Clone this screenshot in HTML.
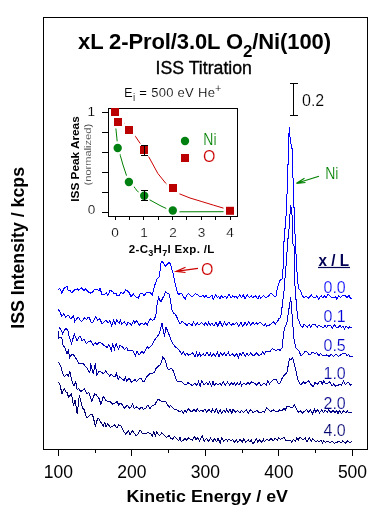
<!DOCTYPE html>
<html><head><meta charset="utf-8"><style>
html,body{margin:0;padding:0;background:#fff;}
svg{display:block;will-change:transform;opacity:0.999;}
text{font-family:"Liberation Sans",sans-serif;}
</style></head><body>
<svg width="384" height="517" viewBox="0 0 384 517">
<rect x="0" y="0" width="384" height="517" fill="#fff"/>
<rect x="43.5" y="17.5" width="324" height="432" fill="none" stroke="#000" stroke-width="1" shape-rendering="crispEdges"/>
<g stroke="#000" stroke-width="1" shape-rendering="crispEdges"><line x1="58.5" y1="449" x2="58.5" y2="456"/><line x1="95.5" y1="449" x2="95.5" y2="453"/><line x1="131.5" y1="449" x2="131.5" y2="456"/><line x1="168.5" y1="449" x2="168.5" y2="453"/><line x1="205.5" y1="449" x2="205.5" y2="456"/><line x1="242.5" y1="449" x2="242.5" y2="453"/><line x1="278.5" y1="449" x2="278.5" y2="456"/><line x1="315.5" y1="449" x2="315.5" y2="453"/><line x1="352.5" y1="449" x2="352.5" y2="456"/></g>
<g font-size="17.5" fill="#000"><text x="58.3" y="478" text-anchor="middle">100</text><text x="131.9" y="478" text-anchor="middle">200</text><text x="205.4" y="478" text-anchor="middle">300</text><text x="278.9" y="478" text-anchor="middle">400</text><text x="352.5" y="478" text-anchor="middle">500</text></g>
<text x="126.5" y="502" font-size="17" font-weight="bold" textLength="161.5" lengthAdjust="spacingAndGlyphs">Kinetic Energy / eV</text>
<text transform="translate(23.8,328.7) rotate(-90)" x="0" y="0" font-size="17.5" font-weight="bold" textLength="161.7" lengthAdjust="spacingAndGlyphs">ISS Intensity / kcps</text>
<text x="78" y="48.7" font-size="22" font-weight="bold" textLength="253" lengthAdjust="spacing">xL 2-Prol/3.0L O<tspan font-size="17" dy="8">2</tspan><tspan dy="-8">/Ni(100)</tspan></text>
<text x="155.6" y="73.9" font-size="17.7" stroke="#000" stroke-width="0.35">ISS Titration</text>
<text x="124" y="96.7" font-size="13" textLength="97" lengthAdjust="spacing" stroke="#fff" stroke-width="0.15">E<tspan font-size="10" dy="4.5">i</tspan><tspan dy="-4.5"> = 500 eV He</tspan><tspan font-size="10" dy="-5">+</tspan></text>
<g font-size="16" stroke="#fff" stroke-width="0.2"><text x="323.5" y="292.9" fill="#0000ff">0.0</text><text x="323.5" y="321.5" fill="#0000dd">0.1</text><text x="323.5" y="350.8" fill="#0000c8">0.5</text><text x="323.5" y="379" fill="#00009e">1.0</text><text x="323.5" y="409.1" fill="#000088">2.0</text><text x="323.5" y="435.8" fill="#000070">4.0</text></g>
<g fill="none" stroke-width="1" stroke-linejoin="miter" shape-rendering="crispEdges"><path d="M58.2,289.8 L59.9,288.5 L61.8,293.0 L64.4,287.8 L67.0,286.5 L68.3,291.0 L70.0,289.9 L71.3,292.9 L73.5,291.0 L75.4,289.3 L77.4,289.0 L78.7,290.1 L81.3,287.8 L84.0,290.4 L85.2,288.5 L87.9,291.7 L90.5,293.0 L93.0,291.7 L94.5,289.1 L97.0,289.8 L99.6,290.4 L100.0,288.3 L101.8,294.1 L104.7,294.5 L106.3,292.4 L107.9,295.4 L110.0,290.5 L112.5,291.4 L113.8,293.3 L115.9,293.4 L117.2,296.0 L119.0,295.8 L121.2,292.1 L123.1,293.9 L125.8,289.8 L128.4,291.6 L129.7,293.8 L131.1,296.9 L133.2,293.8 L136.7,297.7 L138.3,298.1 L140.4,293.2 L142.2,293.0 L144.1,295.7 L146.9,292.2 L150.0,292.2 L152.3,295.3 L154.9,284.9 L157.0,278.9 L159.4,276.6 L161.2,261.0 L163.3,262.5 L165.6,266.4 L168.8,262.5 L170.3,264.0 L172.7,271.9 L175.0,282.8 L177.3,292.2 L178.5,294.2 L180.5,293.8 L181.8,293.3 L183.6,296.9 L185.3,299.3 L186.7,295.3 L188.7,293.5 L190.6,296.0 L192.2,296.5 L195.3,293.8 L197.8,294.7 L200.0,296.9 L203.0,295.3 L204.5,297.1 L206.1,295.4 L207.8,297.9 L210.0,296.9 L211.9,295.2 L213.2,299.1 L215.6,294.9 L217.4,297.6 L218.7,296.2 L220.1,298.8 L221.3,295.5 L223.0,297.5 L225.1,296.0 L226.7,298.1 L229.1,294.5 L231.0,298.0 L232.7,295.8 L234.1,297.4 L236.1,296.0 L237.3,298.3 L239.7,295.0 L241.4,297.6 L243.4,294.9 L244.9,298.7 L247.3,294.9 L249.5,297.7 L251.2,295.8 L252.8,297.7 L255.3,295.5 L257.9,298.9 L259.4,295.8 L260.9,298.3 L263.3,295.4 L265.6,297.4 L268.2,296.7 L270.5,293.5 L272.0,294.0 L274.3,296.1 L276.0,296.0 L277.5,287.4 L280.3,279.7 L282.1,279.0 L283.4,265.0 L283.6,248.0 L284.7,231.0 L285.8,222.6 L286.7,197.0 L287.4,190.0 L287.4,164.6 L288.1,164.6 L288.6,139.8 L289.4,127.1 L289.8,135.2 L291.7,148.3 L292.9,148.3 L292.9,173.0 L293.3,190.0 L293.6,207.0 L294.5,207.8 L294.8,227.0 L295.6,253.6 L296.7,254.3 L296.7,268.0 L297.5,278.0 L298.4,288.2 L300.2,290.4 L302.4,295.6 L303.8,297.5 L306.3,296.3 L308.4,298.3 L311.5,295.2 L313.6,297.5 L315.6,298.0 L316.8,295.9 L318.8,299.3 L321.2,295.4 L322.7,297.7 L324.8,295.6 L326.1,297.9 L328.0,294.6 L329.7,295.6 L332.2,297.9 L334.4,298.0 L335.6,296.7 L336.8,299.0 L338.7,295.6 L340.4,297.8 L342.6,295.6 L345.3,295.6 L346.9,297.6 L348.9,295.4 L350.7,298.7 L352.3,298.0" stroke="#0000ff"/><path d="M58.2,309.3 L59.9,311.9 L61.8,316.5 L63.8,313.9 L65.7,317.0 L68.3,315.2 L70.9,319.0 L73.5,315.8 L74.8,321.7 L77.0,318.1 L78.7,317.8 L81.2,321.5 L82.6,320.4 L84.2,317.9 L86.5,319.4 L87.9,317.8 L89.2,317.3 L91.3,322.9 L93.0,322.3 L95.7,316.5 L97.6,320.4 L99.8,318.8 L102.2,324.0 L104.0,321.7 L105.8,320.1 L108.1,323.0 L110.0,320.7 L111.7,325.7 L113.7,319.8 L115.3,324.4 L116.6,319.8 L119.2,323.6 L120.4,320.5 L121.8,324.4 L124.2,321.8 L126.7,325.0 L128.0,322.5 L130.0,323.4 L131.3,325.1 L133.6,320.8 L134.9,323.2 L136.2,320.3 L139.4,325.0 L141.9,323.0 L143.8,325.0 L145.6,322.7 L147.2,325.0 L148.5,321.7 L150.3,318.8 L152.6,320.4 L154.2,319.5 L155.8,315.6 L157.3,303.0 L158.6,297.7 L161.0,302.3 L162.7,297.8 L163.9,296.8 L165.6,291.4 L167.2,293.0 L169.1,294.0 L170.3,299.2 L171.9,310.0 L173.7,313.4 L175.3,314.0 L176.9,317.2 L180.0,324.2 L182.2,321.4 L184.7,323.4 L186.9,325.5 L188.6,323.3 L190.0,324.2 L192.2,325.3 L193.6,322.0 L195.7,325.3 L197.3,322.7 L199.1,325.2 L201.7,322.5 L204.2,325.3 L205.4,322.8 L207.3,325.1 L208.6,322.4 L210.3,325.2 L211.9,323.1 L213.9,326.0 L216.1,321.9 L217.7,326.4 L220.0,321.3 L222.3,326.2 L224.6,322.0 L226.5,325.5 L228.8,322.0 L231.3,325.7 L232.8,323.3 L234.5,324.7 L236.5,322.3 L238.6,326.2 L240.9,322.1 L242.9,326.6 L245.1,322.3 L246.7,325.7 L248.9,321.7 L250.7,325.2 L252.9,322.3 L254.2,324.6 L256.5,322.8 L257.7,324.5 L259.8,322.1 L262.0,323.8 L263.9,325.9 L265.3,323.6 L266.6,326.1 L269.1,325.4 L271.3,323.8 L273.9,321.7 L275.3,324.2 L277.5,321.5 L278.9,318.7 L280.6,317.6 L282.1,306.8 L284.4,288.2 L285.5,270.0 L286.7,259.8 L287.4,242.0 L288.6,235.0 L289.8,218.0 L290.5,204.7 L291.7,209.4 L292.2,218.0 L293.0,244.0 L294.0,245.8 L294.0,268.0 L295.3,291.3 L297.6,317.6 L300.7,325.4 L302.6,327.4 L304.1,324.0 L306.2,326.0 L307.5,326.9 L309.1,324.6 L310.7,327.6 L312.5,324.5 L314.9,324.5 L317.1,327.4 L318.8,325.1 L321.9,326.9 L323.6,327.5 L324.9,325.5 L326.5,327.4 L328.0,325.3 L329.9,325.0 L332.5,327.9 L334.5,324.9 L336.0,326.9 L338.2,327.5 L340.0,325.6 L341.6,327.7 L343.0,326.1 L344.6,328.8 L346.2,326.0 L348.2,328.5 L349.6,326.8 L352.3,327.7" stroke="#0000dd"/><path d="M59.2,327.4 L61.0,330.0 L62.7,334.0 L64.4,330.4 L65.9,327.9 L67.9,330.9 L69.3,337.0 L71.4,343.5 L74.4,334.3 L77.0,340.4 L80.0,335.7 L81.8,340.0 L83.0,340.0 L84.3,339.4 L86.3,343.8 L88.0,342.0 L90.6,341.0 L93.3,345.0 L95.1,342.6 L96.8,344.5 L98.7,343.0 L100.1,341.9 L103.5,345.0 L105.6,346.3 L107.1,347.6 L108.9,344.7 L111.3,350.3 L112.5,344.1 L114.4,349.4 L116.1,343.7 L118.5,349.0 L119.9,345.3 L122.0,346.3 L124.5,349.4 L126.8,347.0 L128.0,351.2 L130.0,350.0 L132.1,350.0 L133.5,352.0 L135.6,355.7 L136.9,351.3 L138.6,354.5 L140.2,353.9 L141.8,351.3 L143.9,353.3 L145.6,350.0 L147.1,346.6 L148.8,348.2 L151.9,345.3 L153.7,341.2 L155.8,338.3 L157.3,336.7 L159.7,332.8 L162.0,322.7 L164.4,336.7 L166.0,327.3 L168.2,332.1 L170.6,339.0 L172.5,343.0 L175.3,346.9 L177.6,348.4 L180.0,351.6 L181.6,354.4 L183.1,351.6 L185.2,355.5 L187.0,352.8 L188.4,355.3 L190.0,354.7 L192.5,352.5 L195.1,357.0 L196.5,352.4 L197.8,356.5 L199.5,353.5 L200.7,355.8 L203.2,353.8 L204.7,355.9 L207.1,352.4 L208.9,355.9 L210.4,353.4 L211.6,356.0 L213.9,353.6 L215.2,356.8 L217.4,352.4 L219.0,356.9 L220.6,352.8 L222.2,355.2 L224.7,352.9 L225.9,355.6 L228.4,352.3 L230.0,355.9 L232.5,353.7 L234.7,356.5 L236.8,353.4 L238.5,357.6 L240.0,352.7 L241.2,355.2 L242.9,352.3 L245.5,356.1 L246.8,353.1 L248.6,355.5 L250.7,352.8 L253.1,356.2 L255.0,354.5 L256.6,353.0 L258.8,355.4 L261.2,354.5 L262.7,352.0 L264.3,354.1 L266.2,351.2 L267.5,351.4 L270.1,351.5 L272.4,348.5 L274.5,349.8 L276.1,350.7 L278.7,349.0 L280.0,350.6 L282.3,347.5 L283.4,335.0 L284.4,328.5 L286.8,323.8 L290.6,297.5 L291.4,305.2 L293.0,327.0 L293.3,335.0 L295.6,347.5 L298.8,350.6 L301.0,356.0 L302.8,354.6 L305.0,351.4 L306.3,351.2 L309.0,354.5 L310.7,354.5 L312.3,352.0 L314.0,352.7 L315.2,354.0 L316.7,352.6 L319.0,356.1 L320.3,353.5 L322.4,355.7 L325.0,355.8 L326.8,354.8 L329.3,356.5 L331.0,354.4 L333.6,356.3 L335.8,354.0 L338.3,356.2 L340.6,355.0 L343.0,353.1 L345.3,353.4 L347.3,355.9 L348.6,354.5 L350.0,356.6 L353.0,356.2" stroke="#0000c8"/><path d="M58.3,331.3 L58.3,338.3 L60.0,337.0 L61.8,337.4 L62.7,344.3 L65.3,348.7 L67.0,354.0 L68.3,350.4 L69.7,357.4 L71.4,354.8 L72.8,354.2 L74.9,356.5 L77.5,360.9 L78.9,363.3 L81.8,363.5 L83.3,363.9 L86.5,367.4 L88.4,370.7 L89.9,372.2 L90.6,363.4 L93.3,374.2 L95.3,363.4 L96.7,374.9 L99.2,371.4 L101.0,371.9 L103.3,373.7 L105.7,371.0 L108.0,374.0 L109.8,376.3 L111.1,374.0 L113.6,376.7 L115.0,376.5 L116.3,373.3 L118.3,379.3 L119.9,376.7 L122.0,378.8 L124.1,380.5 L125.4,377.1 L126.9,381.4 L128.7,378.3 L130.0,379.4 L131.4,382.4 L133.1,381.0 L135.0,379.6 L136.3,381.8 L139.4,378.6 L140.7,378.1 L142.5,381.0 L143.9,381.6 L147.2,376.2 L149.5,373.9 L151.9,373.4 L154.4,372.3 L155.8,368.8 L158.3,366.1 L159.7,365.6 L161.1,363.2 L162.8,357.0 L165.2,360.2 L167.5,368.8 L169.0,370.0 L170.6,368.8 L172.0,368.8 L173.8,371.9 L176.1,379.4 L177.7,381.7 L180.0,381.7 L181.5,381.7 L183.9,384.0 L186.4,384.9 L187.7,382.4 L190.0,384.0 L192.4,385.6 L194.9,383.2 L196.9,385.3 L198.5,381.5 L200.2,385.9 L201.7,380.8 L204.0,384.9 L206.6,382.2 L208.2,384.8 L209.6,382.1 L211.6,386.0 L213.1,381.0 L214.3,385.7 L216.0,382.8 L218.0,384.7 L219.9,382.9 L221.4,385.1 L223.5,381.6 L225.3,385.3 L227.4,382.1 L229.5,385.0 L231.7,382.6 L233.0,385.1 L234.5,382.9 L235.7,385.1 L237.1,382.7 L239.0,385.2 L240.5,382.4 L241.7,385.6 L243.9,382.9 L246.2,384.8 L248.0,382.0 L249.5,384.1 L251.8,381.7 L255.0,383.4 L256.6,385.0 L258.9,382.4 L261.0,386.1 L262.8,384.2 L264.0,382.9 L266.3,384.9 L267.9,380.6 L269.5,383.8 L272.0,381.0 L273.8,379.5 L275.9,379.0 L278.3,383.8 L280.0,383.4 L282.2,378.0 L283.9,375.6 L287.0,372.5 L289.4,358.4 L290.7,359.9 L292.5,357.7 L293.8,361.7 L295.6,369.4 L298.0,380.3 L300.3,384.2 L301.5,384.3 L303.6,381.7 L304.9,384.0 L306.2,382.3 L308.6,380.8 L311.0,384.7 L313.5,386.8 L315.0,382.5 L317.4,384.3 L318.8,382.3 L320.8,381.1 L322.2,384.2 L323.8,381.0 L325.4,383.7 L328.0,383.1 L329.6,381.7 L332.0,386.2 L333.8,383.5 L335.5,386.4 L337.5,385.5 L339.9,384.3 L341.3,385.0 L343.6,381.2 L345.5,384.5 L346.9,383.1 L348.8,382.5 L350.4,385.3 L352.3,383.9" stroke="#00009e"/><path d="M58.4,362.3 L60.6,365.8 L62.7,373.6 L64.2,376.8 L66.5,374.3 L68.5,376.0 L69.7,371.0 L72.1,381.8 L73.9,386.1 L75.8,381.8 L77.2,389.8 L78.4,388.6 L80.9,391.6 L83.0,389.8 L84.5,389.0 L86.8,393.8 L88.8,392.7 L91.7,401.4 L94.6,394.0 L96.3,394.8 L99.0,398.5 L101.0,404.4 L103.3,396.3 L105.5,399.9 L108.0,402.0 L110.0,401.4 L112.5,404.0 L115.0,403.3 L117.2,401.3 L118.6,405.0 L120.5,403.2 L122.0,404.4 L124.6,408.4 L127.1,404.8 L129.7,408.5 L131.2,406.7 L132.7,403.6 L134.2,409.0 L136.2,406.7 L139.4,409.0 L141.6,407.1 L143.4,409.5 L145.6,408.3 L147.8,405.2 L149.8,408.7 L151.9,406.0 L155.0,404.4 L158.1,399.0 L161.2,401.2 L163.6,401.2 L165.8,401.4 L167.5,405.0 L169.3,407.1 L170.7,405.4 L172.2,407.5 L174.3,409.5 L176.9,409.8 L180.0,412.2 L181.8,410.1 L183.2,413.5 L185.0,409.9 L186.2,412.8 L188.5,408.5 L190.0,410.6 L192.0,412.2 L193.9,408.9 L195.9,412.0 L197.3,408.9 L199.6,411.6 L201.3,410.1 L203.1,411.4 L204.9,409.0 L206.4,411.9 L208.9,409.4 L211.3,412.2 L212.6,409.0 L214.7,412.4 L216.3,408.7 L218.3,413.1 L220.2,410.0 L221.6,413.1 L224.0,410.1 L225.5,412.5 L226.7,409.3 L228.3,412.3 L230.1,409.5 L231.8,413.4 L233.1,409.3 L235.4,412.1 L237.4,410.4 L240.0,413.0 L241.3,410.6 L243.6,412.6 L246.1,409.6 L248.5,413.1 L250.7,409.5 L253.0,412.4 L255.0,411.6 L257.2,410.6 L259.2,413.0 L261.2,412.3 L263.1,411.1 L264.5,412.6 L266.5,407.8 L269.0,410.0 L270.9,411.7 L273.2,409.6 L275.8,411.8 L278.4,411.6 L279.6,409.7 L282.1,411.0 L284.1,408.0 L285.3,410.2 L287.0,406.2 L289.4,406.9 L292.0,408.0 L294.6,404.7 L296.5,409.5 L298.8,412.3 L300.5,410.6 L302.2,413.2 L305.0,410.8 L306.6,409.6 L308.7,412.6 L310.3,410.0 L312.4,413.7 L314.6,409.3 L315.9,412.6 L317.4,409.4 L319.5,412.9 L321.6,410.0 L323.7,412.7 L325.2,410.0 L327.5,412.1 L328.7,410.0 L330.9,412.6 L333.2,410.4 L334.8,412.8 L336.6,410.4 L337.9,413.9 L339.2,410.3 L341.7,413.7 L343.5,410.7 L346.0,413.2 L347.4,410.8 L348.8,413.0 L352.0,412.3" stroke="#000088"/><path d="M58.4,382.6 L59.8,384.1 L62.0,394.0 L64.2,388.4 L65.6,391.7 L67.1,392.6 L68.5,397.0 L71.4,394.0 L73.6,405.8 L75.0,400.0 L77.2,413.8 L79.4,395.0 L81.7,405.0 L83.0,408.7 L84.3,409.8 L86.2,416.9 L87.4,417.4 L89.6,415.1 L92.5,414.5 L95.4,426.0 L97.5,418.9 L98.7,418.4 L102.0,424.2 L103.3,425.8 L104.7,422.4 L106.0,426.5 L107.8,423.4 L110.2,427.4 L112.6,426.5 L114.4,424.8 L116.9,428.1 L118.5,424.8 L120.7,425.3 L124.2,432.3 L125.9,434.2 L128.2,430.4 L130.0,434.8 L132.2,430.4 L133.5,432.3 L136.2,435.6 L137.8,434.6 L139.6,430.8 L141.0,431.0 L142.3,433.9 L145.6,434.0 L147.6,432.5 L150.3,433.3 L152.5,435.9 L153.8,431.9 L155.3,435.8 L156.8,432.1 L158.1,434.0 L159.6,435.5 L161.9,432.6 L164.4,435.6 L166.7,437.5 L169.1,435.3 L170.6,438.0 L172.6,439.2 L174.1,436.5 L176.9,438.8 L178.7,440.7 L179.9,437.1 L181.3,441.6 L183.1,440.3 L185.1,438.6 L186.4,440.2 L188.8,437.6 L190.0,438.8 L192.3,440.2 L194.6,436.8 L196.1,439.6 L197.6,437.8 L199.6,441.3 L202.1,435.6 L204.1,441.3 L206.7,438.3 L208.8,441.7 L210.5,438.1 L213.1,441.9 L214.3,438.6 L216.8,441.9 L218.0,437.8 L220.1,443.5 L221.6,437.9 L223.7,441.0 L226.0,439.2 L227.5,440.8 L229.0,439.1 L231.1,440.8 L232.6,439.6 L234.1,442.4 L236.5,439.6 L237.9,442.5 L239.9,439.2 L242.3,441.9 L243.7,439.1 L245.9,442.2 L248.3,439.8 L249.7,441.8 L251.4,440.0 L253.0,444.2 L255.0,441.0 L256.3,438.9 L257.8,442.0 L259.3,439.7 L261.9,442.5 L263.3,439.2 L264.5,441.7 L267.1,439.2 L268.8,440.8 L271.2,438.0 L273.0,441.2 L275.0,438.3 L277.2,440.4 L278.6,438.0 L280.4,439.4 L282.3,438.3 L284.5,437.7 L286.0,440.7 L287.8,441.0 L290.0,440.0 L291.7,442.0 L293.6,439.3 L295.4,441.3 L296.9,437.5 L298.3,440.0 L299.5,437.4 L301.5,438.3 L302.9,440.1 L305.3,438.1 L307.0,441.9 L309.4,438.0 L311.4,441.5 L312.6,438.7 L315.0,441.0 L316.3,441.9 L317.6,440.5 L319.1,441.8 L321.1,440.2 L322.4,443.2 L323.7,440.9 L325.6,442.5 L327.3,441.1 L329.7,442.6 L332.0,441.4 L334.5,443.3 L337.0,442.4 L338.9,441.2 L341.2,442.9 L342.9,440.8 L345.2,443.3 L347.6,440.9 L350.1,442.9 L352.0,441.0" stroke="#000070"/></g>
<!-- inset -->
<rect x="108.5" y="108.5" width="129" height="108" fill="#fff" stroke="#000" stroke-width="1" shape-rendering="crispEdges"/>
<g stroke="#000" stroke-width="1" shape-rendering="crispEdges"><line x1="102" y1="112.5" x2="108" y2="112.5"/><line x1="102" y1="132.5" x2="108" y2="132.5"/><line x1="102" y1="152.5" x2="108" y2="152.5"/><line x1="102" y1="172.5" x2="108" y2="172.5"/><line x1="102" y1="192.5" x2="108" y2="192.5"/><line x1="102" y1="212.5" x2="108" y2="212.5"/><line x1="115.5" y1="216" x2="115.5" y2="219.5"/><line x1="129.5" y1="216" x2="129.5" y2="219.5"/><line x1="143.5" y1="216" x2="143.5" y2="219.5"/><line x1="158.5" y1="216" x2="158.5" y2="219.5"/><line x1="172.5" y1="216" x2="172.5" y2="219.5"/><line x1="186.5" y1="216" x2="186.5" y2="219.5"/><line x1="201.5" y1="216" x2="201.5" y2="219.5"/><line x1="215.5" y1="216" x2="215.5" y2="219.5"/><line x1="230.5" y1="216" x2="230.5" y2="219.5"/></g>
<mask id="mk" maskUnits="userSpaceOnUse" x="0" y="0" width="384" height="517"><rect x="0" y="0" width="384" height="517" fill="#fff"/><rect x="108.5" y="105.5" width="13" height="13" fill="#000"/><rect x="111.5" y="115.5" width="13" height="13" fill="#000"/><rect x="122.5" y="123.5" width="13" height="13" fill="#000"/><rect x="137.5" y="143.5" width="13" height="13" fill="#000"/><rect x="166.5" y="181.5" width="13" height="13" fill="#000"/><rect x="223.5" y="204.3" width="13" height="13" fill="#000"/><circle cx="117.7" cy="148.0" r="6.8" fill="#000"/><circle cx="128.9" cy="182.0" r="6.8" fill="#000"/><circle cx="144.2" cy="195.8" r="6.8" fill="#000"/><circle cx="172.8" cy="210.5" r="6.8" fill="#000"/></mask>
<g mask="url(#mk)">
<path d="M115.0,112.0 L119.0,117.0 L124.0,123.0 L129.0,129.5 L135.2,136.0 L141.4,145.3 L148.4,156.2 L157.8,173.4 L165.5,183.0 L172.0,189.0 L178.4,193.4 L190.0,198.0 L201.9,201.6 L213.6,205.2 L225.3,208.7 L230.0,210.8" fill="none" stroke="#cc0000" stroke-width="1"/>
<path d="M115.0,112.0 L115.6,125.8 L117.2,141.4 L120.3,155.5 L123.0,165.0 L126.6,175.8 L130.5,182.5 L135.2,188.3 L137.5,191.4 L143.0,195.5 L150.0,200.0 L160.0,205.5 L166.7,208.7 L172.8,210.6 L179.6,211.8 L223.0,211.7 L230.0,211.0" fill="none" stroke="#008000" stroke-width="1"/>
</g>
<g fill="#bb0000"><rect x="111.0" y="108.0" width="8" height="8"/><rect x="114.0" y="118.0" width="8" height="8"/><rect x="125.0" y="126.0" width="8" height="8"/><rect x="140.0" y="146.0" width="8" height="8"/><rect x="169.0" y="184.0" width="8" height="8"/><rect x="226.0" y="206.8" width="8" height="8"/></g>
<g fill="#008010"><circle cx="117.7" cy="148.0" r="4.2"/><circle cx="128.9" cy="182.0" r="4.2"/><circle cx="144.2" cy="195.8" r="4.2"/><circle cx="172.8" cy="210.5" r="4.2"/></g>
<g stroke="#000" stroke-width="1" shape-rendering="crispEdges">
<line x1="144.5" y1="145" x2="144.5" y2="156"/><line x1="141" y1="145.5" x2="148" y2="145.5"/><line x1="141" y1="155.5" x2="148" y2="155.5"/>
<line x1="144.5" y1="190" x2="144.5" y2="201"/><line x1="141" y1="190.5" x2="148" y2="190.5"/><line x1="141" y1="200.5" x2="148" y2="200.5"/>
</g>
<circle cx="185" cy="141" r="4.2" fill="#008010"/>
<rect x="181" y="154" width="8" height="8" fill="#bb0000"/>
<text x="203.3" y="144.8" font-size="16" fill="#008000" stroke="#fff" stroke-width="0.2" textLength="13.2" lengthAdjust="spacingAndGlyphs">Ni</text>
<text x="203" y="162" font-size="16" fill="#cc0000" stroke="#fff" stroke-width="0.2">O</text>
<g font-size="13.6" fill="#000" stroke="#fff" stroke-width="0.2">
<text x="95" y="115.6" text-anchor="end">1</text>
<text x="95.2" y="214.3" text-anchor="end">0</text>
<text x="115" y="236.7" text-anchor="middle">0</text>
<text x="144" y="236.7" text-anchor="middle">1</text>
<text x="173" y="236.7" text-anchor="middle">2</text>
<text x="201.5" y="236.7" text-anchor="middle">3</text>
<text x="230" y="236.7" text-anchor="middle">4</text>
</g>
<text transform="translate(78.8,201.7) rotate(-90)" font-size="11" font-weight="bold" textLength="85.4" lengthAdjust="spacingAndGlyphs">ISS Peak Areas</text>
<text transform="translate(90.5,185.4) rotate(-90)" font-size="9" textLength="61.5" lengthAdjust="spacingAndGlyphs" stroke="#fff" stroke-width="0.2">(normalized)</text>
<text x="128.75" y="252.7" font-size="11.5" font-weight="bold" textLength="85.5" lengthAdjust="spacing">2-C<tspan font-size="9" dy="3.5">3</tspan><tspan dy="-3.5">H</tspan><tspan font-size="9" dy="3.5">7</tspan><tspan dy="-3.5">I Exp. /L</tspan></text>
<!-- scale bar -->
<g stroke="#000" stroke-width="1" shape-rendering="crispEdges">
<line x1="293.5" y1="83" x2="293.5" y2="116"/><line x1="290" y1="83.5" x2="298" y2="83.5"/><line x1="290" y1="115.5" x2="298" y2="115.5"/>
</g>
<text x="302" y="105.8" font-size="16" fill="#000" stroke="#fff" stroke-width="0.2">0.2</text>
<text x="325.2" y="179" font-size="16" fill="#008000" stroke="#fff" stroke-width="0.2" textLength="13.2" lengthAdjust="spacingAndGlyphs">Ni</text>
<g stroke="#008000" stroke-width="1.2" fill="none"><path d="M319,176.3 L296.5,183.3 M304.5,178.3 L296.5,183.3 L305.5,182.5"/></g>
<text x="201" y="274.6" font-size="16" fill="#cc0000" stroke="#fff" stroke-width="0.2">O</text>
<g stroke="#cc0000" stroke-width="1.2" fill="none"><path d="M198,268.3 L176,271.4 M185.5,267.3 L176,271.4 L185.5,272.5"/></g>
<text x="318.6" y="265.8" font-size="16.5" font-weight="bold" fill="#000055" textLength="30.5" lengthAdjust="spacingAndGlyphs">x / L</text>
<line x1="318" y1="267.5" x2="350" y2="267.5" stroke="#000055" stroke-width="1.2"/>
</svg>
</body></html>
